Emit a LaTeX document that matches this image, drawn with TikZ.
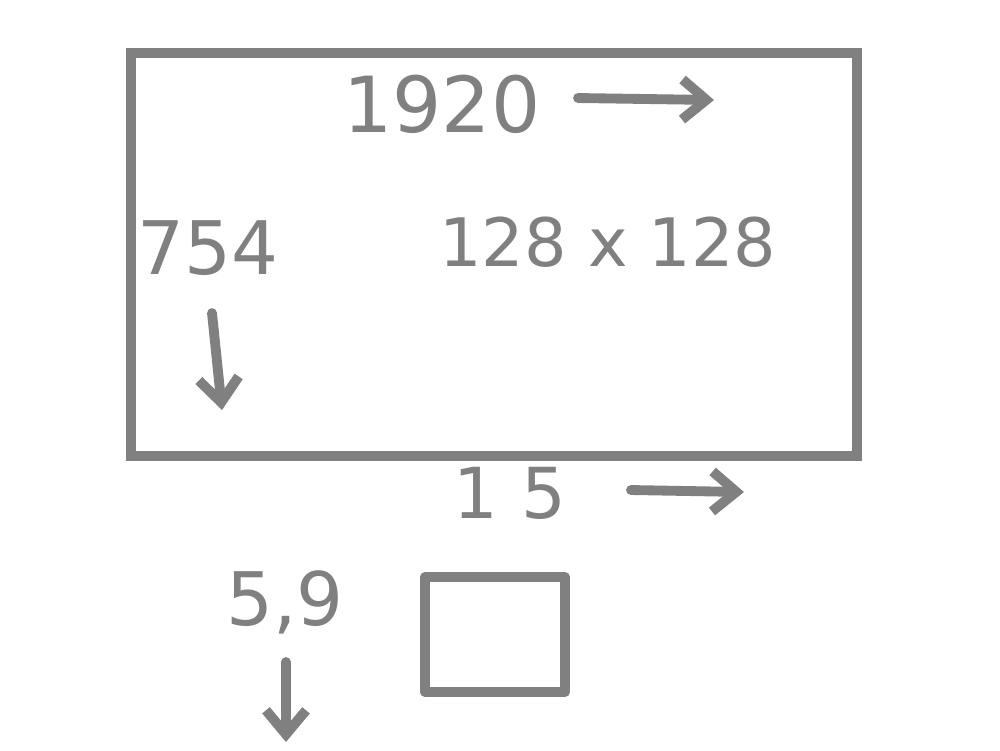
\documentclass[tikz,border=0pt]{standalone}
\usepackage{fontspec}
\setmainfont{DejaVu Sans}
\usetikzlibrary{arrows.meta}
\definecolor{pen}{HTML}{808080}

\begin{document}
\begin{tikzpicture}[x=0.01cm, y=-0.01cm,
    stroke/.style={draw=pen, line width=2.6pt, line cap=round, line join=round},
    pointer/.style={stroke, line width=2.8pt, -{Straight Barb[length=2.4mm, width=4mm, line width=2.8pt]}},
    num/.style={text=pen, anchor=base, inner sep=0pt}]
    \useasboundingbox (0,0) rectangle (1000,750);

    % screen
    \draw[stroke, line join=miter] (131,53) rectangle (857,456);
    \node[num, font=\fontsize{22}{26}\selectfont] (W) at (442,132) {1920};
    \coordinate (Wa) at (578,98);
    \coordinate (Wb) at (714,100);
    \draw[pointer] (Wa) -- (Wb);
    \node[num, font=\fontsize{21}{25}\selectfont] (H) at (208,274) {754};
    \coordinate (Ha) at (212,313);
    \coordinate (Hb) at (222,410);
    \draw[pointer] (Ha) -- (Hb);
    \node[num, font=\fontsize{19}{23}\selectfont] (S) at (608,266) {128 x 128};

    % tile
    \node[num, font=\fontsize{20}{24}\selectfont] (T) at (510,518) {1\,\,5};
    \coordinate (Ta) at (631,490);
    \coordinate (Tb) at (744,492);
    \draw[pointer] (Ta) -- (Tb);
    \node[num, font=\fontsize{21}{25}\selectfont] (V) at (285,625) {5,9};
    \coordinate (Va) at (286,662);
    \coordinate (Vb) at (286,742);
    \draw[pointer] (Va) -- (Vb);
    \draw[stroke, line width=2.8pt] (425,577) rectangle (565,692);
\end{tikzpicture}
\end{document}
